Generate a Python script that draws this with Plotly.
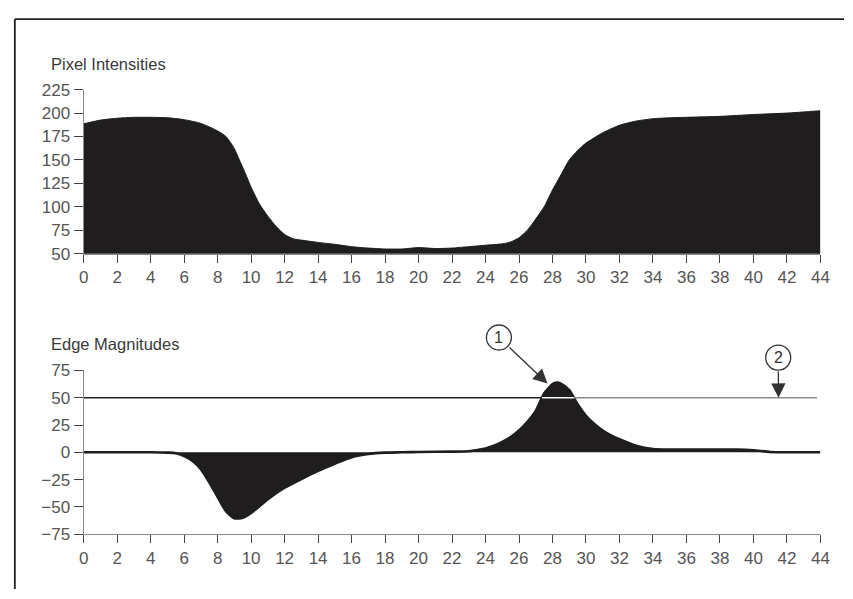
import numpy as np
import plotly.graph_objects as go

# ---- data -------------------------------------------------------------
# pixel intensity profile along the scan line
PIXEL_X = [0, 1, 2, 3, 4, 5, 6, 7, 8, 8.5, 9, 9.3, 9.6, 10, 10.5, 11, 11.5, 12,
           12.5, 13, 14, 15, 16, 17, 18, 19, 20, 21, 22, 23, 24, 25, 25.5, 26,
           26.5, 27, 27.5, 28, 28.5, 29, 29.5, 30, 31, 32, 33, 34, 35, 36, 38,
           40, 42, 44]
PIXEL_VALUES = [188.5, 192.5, 194.5, 195.5, 195.5, 195, 193, 189, 181, 175, 162,
                150, 138, 121, 103, 90, 79, 70.5, 66, 64.5, 62, 60, 57.5, 56, 55,
                55, 56.5, 55.5, 56, 57.5, 59, 60.5, 62.5, 67, 75, 87, 100, 118,
                134, 150, 160, 168, 179, 187, 191.5, 194, 195, 195.5, 196.5,
                198.5, 200, 202.5]

# edge magnitude (derivative of the profile)
EDGE_X = [0, 2, 4, 5, 5.5, 6, 6.5, 7, 7.5, 8, 8.5, 9, 9.5, 10, 10.5, 11, 12, 13,
          14, 15, 16, 17, 18, 19, 20, 22, 23, 24, 24.5, 25, 25.5, 26, 26.5, 27,
          27.5, 28, 28.25, 28.5, 29, 29.5, 30, 30.5, 31, 31.5, 32, 33, 34, 35,
          36, 37, 38, 39, 40, 41, 42, 44]
EDGE_VALUES = [0, 0, 0, -0.3, -0.8, -3.5, -8, -15.5, -27.5, -41, -54, -60.5, -60,
               -55.5, -49.5, -43, -32.5, -24.5, -17, -10.5, -4.5, -1.5, -0.3, 0,
               0.3, 0.6, 1, 3.5, 6, 9.5, 14, 20, 28, 38, 54, 62.5, 64, 63, 57, 44,
               33.5, 26, 20, 15.5, 12, 6, 3, 2.5, 2.5, 2.5, 2.5, 2.5, 1.8, 0.3, 0, 0]

THRESHOLD = 50
THRESHOLD_X_END = 43.8

X_TICKS = list(range(0, 45, 2))
PIXEL_Y_TICKS = [50, 75, 100, 125, 150, 175, 200, 225]
EDGE_Y_TICKS = [-75, -50, -25, 0, 25, 50, 75]

# numbered callouts: circle centre and arrow tip, in edge-plot units
CALLOUT_LABELS = ["1", "2"]
CALLOUT_X = [24.8, 41.48]
CALLOUT_Y = [105.2, 86.8]
CALLOUT_TIP_X = [27.7, 41.5]
CALLOUT_TIP_Y = [63, 50]

# ---- styling ----------------------------------------------------------
W, H = 853, 599
FILL = "#1f1d1d"
AXIS_LINE = "#8a8a8a"
TICK = "#444444"
LABEL = "#555555"
INK = "#333333"
FONT = "Arial, Liberation Sans, sans-serif"
CIRCLE_R = 12.5

X_DOMAIN = [80 / W, 829 / W]
X_RANGE = [0, 44]
TOP_DOMAIN = [1 - 252.7 / H, 1 - 83.3 / H]
TOP_RANGE = [50, 225]
BOT_DOMAIN = [1 - 542.3 / H, 1 - 373.3 / H]
BOT_RANGE = [-75, 75]


def to_paper(x, y):
    """Map edge-plot data coordinates to paper fractions."""
    px = X_DOMAIN[0] + (x - X_RANGE[0]) / (X_RANGE[1] - X_RANGE[0]) * (X_DOMAIN[1] - X_DOMAIN[0])
    py = BOT_DOMAIN[0] + (y - BOT_RANGE[0]) / (BOT_RANGE[1] - BOT_RANGE[0]) * (BOT_DOMAIN[1] - BOT_DOMAIN[0])
    return px, py


# where the edge curve rises above the threshold (linear crossing points)
ex = np.array(EDGE_X, dtype=float)
ev = np.array(EDGE_VALUES, dtype=float)
idx = np.where(ev >= THRESHOLD)[0]
i0, i1 = idx[0], idx[-1]
cross_in = ex[i0 - 1] + (THRESHOLD - ev[i0 - 1]) * (ex[i0] - ex[i0 - 1]) / (ev[i0] - ev[i0 - 1])
cross_out = ex[i1] + (THRESHOLD - ev[i1]) * (ex[i1 + 1] - ex[i1]) / (ev[i1 + 1] - ev[i1])

fig = go.Figure()

# pixel intensity area
fig.add_trace(go.Scatter(
    x=PIXEL_X, y=PIXEL_VALUES, mode="lines", fill="tozeroy",
    line=dict(color=FILL, width=1, shape="spline", smoothing=0.6),
    fillcolor=FILL, xaxis="x", yaxis="y", hoverinfo="skip"))

# edge magnitude area
fig.add_trace(go.Scatter(
    x=EDGE_X, y=EDGE_VALUES, mode="lines", fill="tozeroy",
    line=dict(color=FILL, width=2.6, shape="spline", smoothing=0.6),
    fillcolor=FILL, xaxis="x2", yaxis="y2", hoverinfo="skip"))

# threshold line: dark before the peak, lighter after, white across the peak
fig.add_trace(go.Scatter(
    x=[0, cross_in], y=[THRESHOLD, THRESHOLD], mode="lines",
    line=dict(color="#222222", width=1.5), xaxis="x2", yaxis="y2", hoverinfo="skip"))
fig.add_trace(go.Scatter(
    x=[cross_out, THRESHOLD_X_END], y=[THRESHOLD, THRESHOLD], mode="lines",
    line=dict(color="#8c8c8c", width=1.5), xaxis="x2", yaxis="y2", hoverinfo="skip"))
fig.add_trace(go.Scatter(
    x=[cross_in, cross_out], y=[THRESHOLD, THRESHOLD], mode="lines",
    line=dict(color="#ffffff", width=1.5), xaxis="x2", yaxis="y2", hoverinfo="skip"))

annotations = []
shapes = []
for label, cx, cy, tx, ty in zip(CALLOUT_LABELS, CALLOUT_X, CALLOUT_Y,
                                 CALLOUT_TIP_X, CALLOUT_TIP_Y):
    # arrow from the circle edge to the tip
    annotations.append(dict(
        x=tx, y=ty, xref="x2", yref="y2", ax=cx, ay=cy, axref="x2", ayref="y2",
        text="", showarrow=True, arrowhead=2, arrowsize=2.2, arrowwidth=1.3,
        arrowcolor=INK, startstandoff=CIRCLE_R, standoff=0))
    # circled number
    px, py = to_paper(cx, cy)
    shapes.append(dict(
        type="circle", xref="paper", yref="paper", xsizemode="pixel",
        ysizemode="pixel", xanchor=px, yanchor=py,
        x0=-CIRCLE_R, x1=CIRCLE_R, y0=-CIRCLE_R, y1=CIRCLE_R,
        line=dict(color=INK, width=1.3), fillcolor="rgba(0,0,0,0)"))
    annotations.append(dict(
        text=label, x=px, y=py, xref="paper", yref="paper", showarrow=False,
        xanchor="center", yanchor="middle",
        font=dict(family=FONT, size=16, color=INK)))

# panel titles
for title, ypix in (("Pixel Intensities", 57), ("Edge Magnitudes", 346)):
    annotations.append(dict(
        text=title, x=45 / W, y=1 - ypix / H, xref="paper", yref="paper",
        xanchor="left", yanchor="middle", showarrow=False,
        font=dict(family=FONT, size=16.5, color="#3a3a3a")))

# outer frame (top and left edges)
frame_x = 10 / W
frame_y = 1 - 10.5 / H
shapes.append(dict(type="line", xref="paper", yref="paper",
                   x0=frame_x, x1=1, y0=frame_y, y1=frame_y,
                   line=dict(color="#222222", width=1.8)))
shapes.append(dict(type="line", xref="paper", yref="paper",
                   x0=frame_x, x1=frame_x, y0=0, y1=frame_y,
                   line=dict(color="#222222", width=1.8)))

axis_common = dict(
    showgrid=False, zeroline=False, showline=True, linecolor=AXIS_LINE,
    linewidth=1.3, ticks="outside", tickcolor=TICK, tickwidth=1.3,
    tickfont=dict(family=FONT, size=17, color=LABEL), fixedrange=True)

fig.update_layout(
    width=W, height=H, margin=dict(l=0, r=0, t=0, b=0),
    paper_bgcolor="white", plot_bgcolor="white", showlegend=False,
    xaxis=dict(domain=X_DOMAIN, anchor="y", range=X_RANGE, tickvals=X_TICKS,
               ticklen=8, **axis_common),
    yaxis=dict(domain=TOP_DOMAIN, anchor="x", range=TOP_RANGE,
               tickvals=PIXEL_Y_TICKS, ticklen=9, **axis_common),
    xaxis2=dict(domain=X_DOMAIN, anchor="y2", range=X_RANGE, tickvals=X_TICKS,
                ticklen=8, **axis_common),
    yaxis2=dict(domain=BOT_DOMAIN, anchor="x2", range=BOT_RANGE,
                tickvals=EDGE_Y_TICKS, ticklen=9, **axis_common),
    annotations=annotations,
    shapes=shapes,
)

fig.write_html("out.html", config={"displayModeBar": False})
